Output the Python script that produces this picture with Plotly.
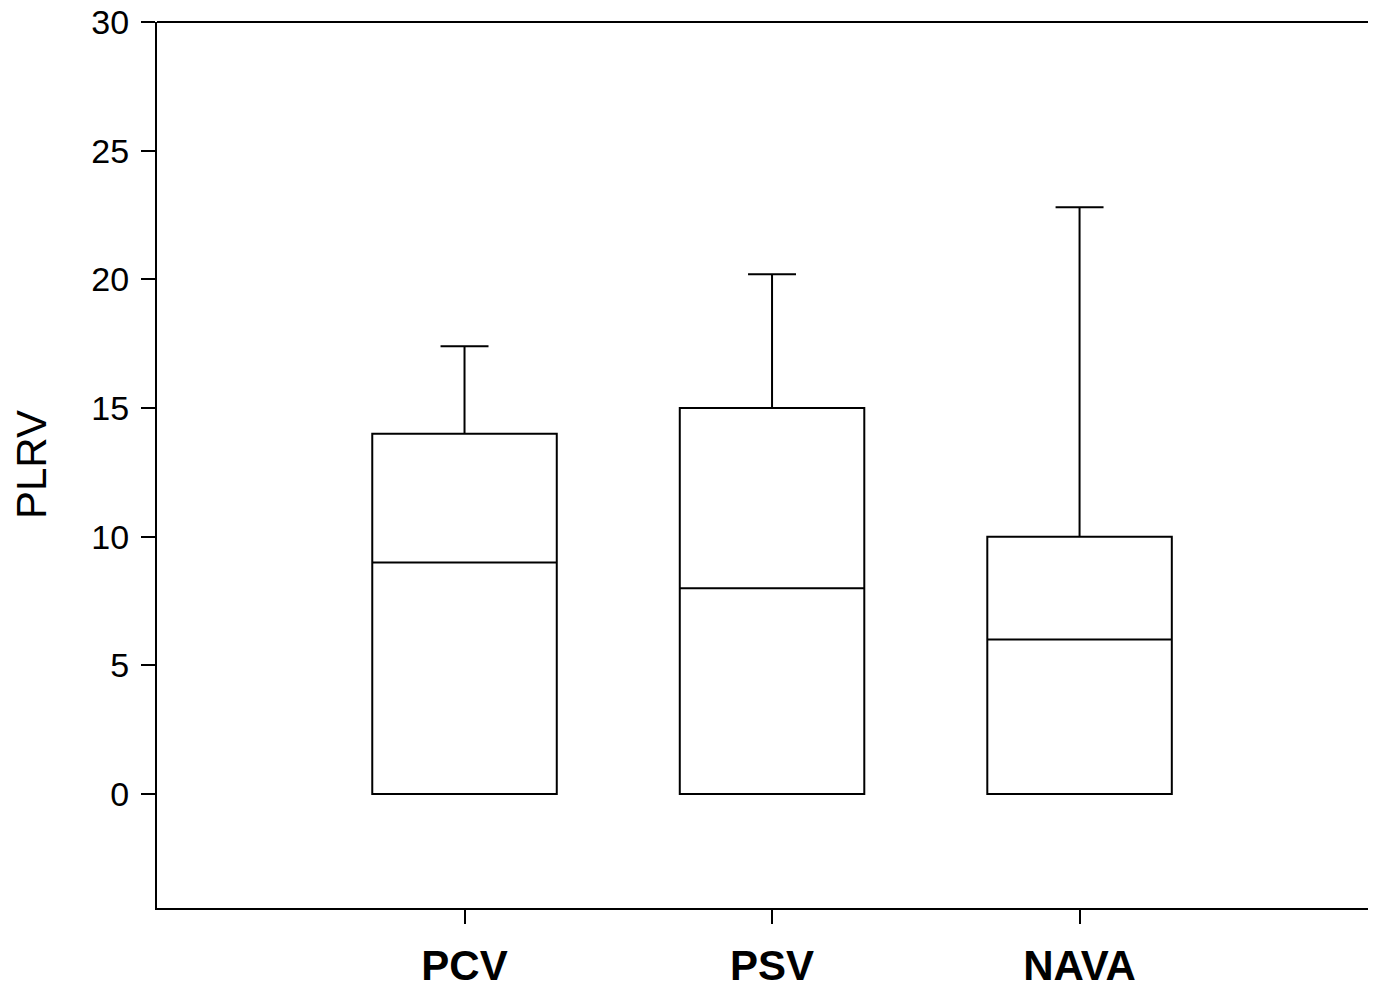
import plotly.graph_objects as go

categories = ["PCV", "PSV", "NAVA"]
q1 = [0, 0, 0]
median = [9, 8, 6]
q3 = [14, 15, 10]
lower = [0, 0, 0]
upper = [17.4, 20.2, 22.8]
y_ticks = [0, 5, 10, 15, 20, 25, 30]

fig = go.Figure()
for i, c in enumerate(categories):
    fig.add_trace(go.Box(
        x=[c], q1=[q1[i]], median=[median[i]], q3=[q3[i]],
        lowerfence=[lower[i]], upperfence=[upper[i]],
        width=0.6, whiskerwidth=0.26,
        line=dict(color="black", width=2), fillcolor="white",
        showlegend=False, boxpoints=False,
    ))

fig.update_layout(
    width=1376, height=984,
    margin=dict(l=149, r=0, t=14, b=84, autoexpand=False),
    paper_bgcolor="white", plot_bgcolor="white",
    font=dict(family="Liberation Sans, Arial, sans-serif", color="black"),
)
fig.update_xaxes(
    type="category", categoryorder="array", categoryarray=categories,
    range=[-1, 2.99], automargin=False,
    showline=True, linecolor="black", linewidth=2,
    ticks="outside", ticklen=14, tickwidth=2, tickcolor="black",
    tickfont=dict(size=42, family="Liberation Sans, Arial, sans-serif"),
    ticktext=["<b>%s</b>" % c for c in categories], tickvals=categories,
    ticklabelstandoff=6, ticklabeloverflow="allow",
    showgrid=False, zeroline=False,
)
fig.update_yaxes(
    range=[-4.43, 30.001], automargin=False,
    tickvals=y_ticks, ticktext=[str(v) for v in y_ticks],
    showline=True, linecolor="black", linewidth=2,
    ticks="outside", ticklen=14, tickwidth=2, tickcolor="black",
    tickfont=dict(size=34), ticklabeloverflow="allow", ticklabelstandoff=5,
    showgrid=False, zeroline=False,
)
fig.add_shape(type="line", xref="paper", yref="paper", x0=0, x1=1, y0=1, y1=1,
              line=dict(color="black", width=2))
fig.add_annotation(text="PLRV", xref="paper", yref="paper", x=0, y=0.5,
                   xanchor="center", yanchor="middle", xshift=-126, textangle=-90,
                   showarrow=False, font=dict(size=42))

fig.write_html("out.html")
